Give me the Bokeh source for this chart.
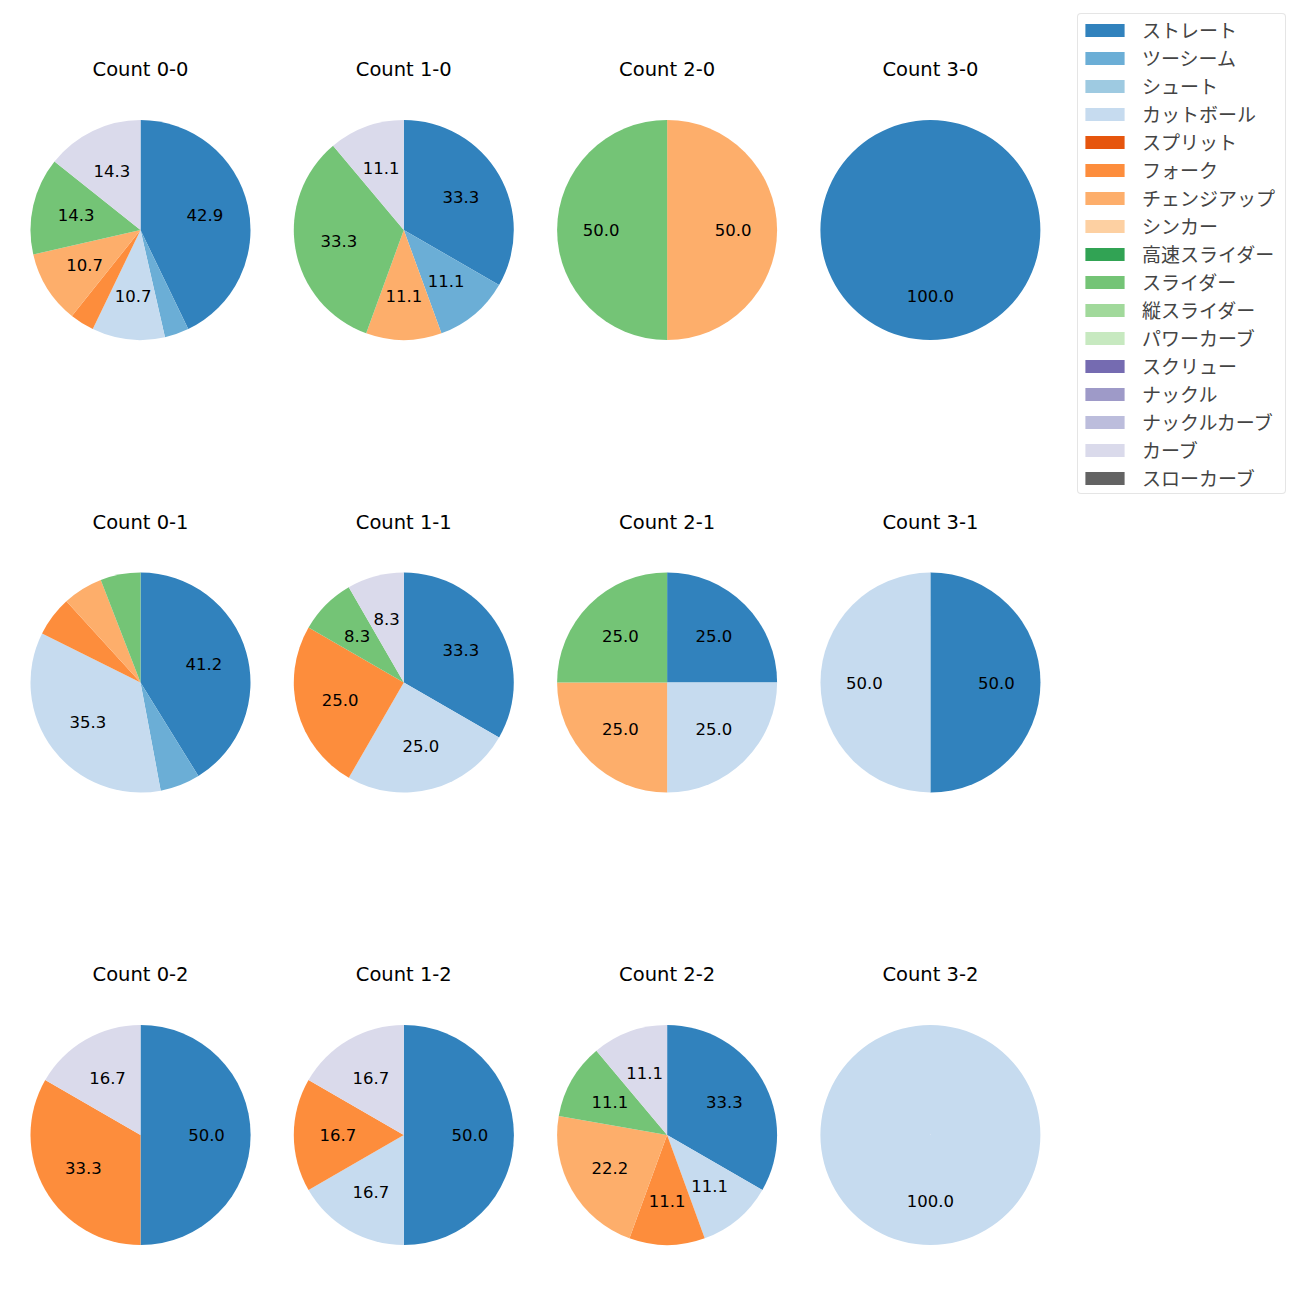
import math
from bokeh.plotting import figure
from bokeh.models import Range1d, Legend, LegendItem, ColumnDataSource
from bokeh.core.properties import value
from bokeh.embed import file_html
from bokeh.resources import INLINE

# ---- data ----
pitch_types = ["ストレート", "ツーシーム", "シュート", "カットボール", "スプリット", "フォーク",
               "チェンジアップ", "シンカー", "高速スライダー", "スライダー", "縦スライダー",
               "パワーカーブ", "スクリュー", "ナックル", "ナックルカーブ", "カーブ", "スローカーブ"]
palette = ["#3182bd", "#6baed6", "#9ecae1", "#c6dbef", "#e6550d", "#fd8d3c", "#fdae6b",
           "#fdd0a2", "#31a354", "#74c476", "#a1d99b", "#c7e9c0", "#756bb1", "#9e9ac8",
           "#bcbddc", "#dadaeb", "#636363"]

count_labels = ["0-0", "1-0", "2-0", "3-0",
                "0-1", "1-1", "2-1", "3-1",
                "0-2", "1-2", "2-2", "3-2"]

# pitches thrown per pitch type (same order as pitch_types)
c_0_0 = [12, 1, 0, 3, 0, 1, 3, 0, 0, 4, 0, 0, 0, 0, 0, 4, 0]
c_1_0 = [3, 1, 0, 0, 0, 0, 1, 0, 0, 3, 0, 0, 0, 0, 0, 1, 0]
c_2_0 = [0, 0, 0, 0, 0, 0, 1, 0, 0, 1, 0, 0, 0, 0, 0, 0, 0]
c_3_0 = [1, 0, 0, 0, 0, 0, 0, 0, 0, 0, 0, 0, 0, 0, 0, 0, 0]
c_0_1 = [7, 1, 0, 6, 0, 1, 1, 0, 0, 1, 0, 0, 0, 0, 0, 0, 0]
c_1_1 = [4, 0, 0, 3, 0, 3, 0, 0, 0, 1, 0, 0, 0, 0, 0, 1, 0]
c_2_1 = [1, 0, 0, 1, 0, 0, 1, 0, 0, 1, 0, 0, 0, 0, 0, 0, 0]
c_3_1 = [1, 0, 0, 1, 0, 0, 0, 0, 0, 0, 0, 0, 0, 0, 0, 0, 0]
c_0_2 = [3, 0, 0, 0, 0, 2, 0, 0, 0, 0, 0, 0, 0, 0, 0, 1, 0]
c_1_2 = [3, 0, 0, 1, 0, 1, 0, 0, 0, 0, 0, 0, 0, 0, 0, 1, 0]
c_2_2 = [3, 0, 0, 1, 0, 1, 2, 0, 0, 1, 0, 0, 0, 0, 0, 1, 0]
c_3_2 = [0, 0, 0, 1, 0, 0, 0, 0, 0, 0, 0, 0, 0, 0, 0, 0, 0]
count_data = [c_0_0, c_1_0, c_2_0, c_3_0, c_0_1, c_1_1, c_2_1, c_3_1,
              c_0_2, c_1_2, c_2_2, c_3_2]

# ---- layout (figure pixel space) ----
W, H = 1292, 1292
JP_FONT = "Noto Sans CJK JP"
LAT_FONT = "DejaVu Sans"
col_x0, col_dx = 140.0, 263.3
row_y0, row_dy = 229.5, 452.5
R = 110.0
label_r = 0.6 * R
title_off = 160.5

p = figure(width=W, height=H, output_backend="svg", toolbar_location=None,
           x_axis_type=None, y_axis_type=None, min_border=0,
           x_range=Range1d(0, W), y_range=Range1d(0, H))
p.outline_line_color = None
p.xgrid.visible = False
p.ygrid.visible = False
p.background_fill_color = "white"
p.border_fill_color = "white"

def yy(py):
    return H - py

wx, wy, ws, we, wc = [], [], [], [], []
lx, ly, lt = [], [], []
tx, ty, tt = [], [], []
for k, (lab, vals) in enumerate(zip(count_labels, count_data)):
    row, col = divmod(k, 4)
    cx = col_x0 + col * col_dx
    cy = yy(row_y0 + row * row_dy)
    total = float(sum(vals))
    cum = 0.0
    for i, v in enumerate(vals):
        if v == 0:
            continue
        frac = v / total
        span = min(frac, 0.99998)
        a0 = math.pi / 2 - 2 * math.pi * cum
        a1 = a0 - 2 * math.pi * span
        wx.append(cx); wy.append(cy); ws.append(a0); we.append(a1); wc.append(palette[i])
        pct = 100 * frac
        if pct >= 7:
            am = math.pi / 2 - 2 * math.pi * (cum + frac / 2)
            lx.append(cx + label_r * math.cos(am))
            ly.append(cy + label_r * math.sin(am))
            lt.append(f"{pct:.1f}")
        cum += frac
    tx.append(cx); ty.append(cy + title_off); tt.append(f"Count {lab}")

p.wedge(x="x", y="y", radius=R, start_angle="s", end_angle="e", direction="clock",
        fill_color="c", line_color=None,
        source=ColumnDataSource(dict(x=wx, y=wy, s=ws, e=we, c=wc)))
p.text(x=lx, y=ly, text=lt, text_align="center", text_baseline="middle",
       text_font=value(LAT_FONT), text_font_size="16.5px", text_color="black")
p.text(x=tx, y=ty, text=tt, text_align="center", text_baseline="middle",
       text_font=value(LAT_FONT), text_font_size="19.5px", text_color="black")

items = []
nan = float("nan")
for name, colr in zip(pitch_types, palette):
    r = p.quad(left=[nan], right=[nan], top=[nan], bottom=[nan],
               fill_color=colr, line_color=None)
    items.append(LegendItem(label=name, renderers=[r]))

legend = Legend(items=items, location=(1077, H - 15 - 479),
                glyph_width=49, glyph_height=16, label_standoff=13,
                label_width=141,
                label_text_font=JP_FONT, label_text_font_size="19px",
                spacing=1, padding=2,
                border_line_color="#cccccc", border_line_width=1,
                background_fill_color="white", background_fill_alpha=0.8)
try:
    legend.border_radius = 4
except Exception:
    pass
p.add_layout(legend, "center")

open("out.html", "w").write(file_html(p, INLINE))
